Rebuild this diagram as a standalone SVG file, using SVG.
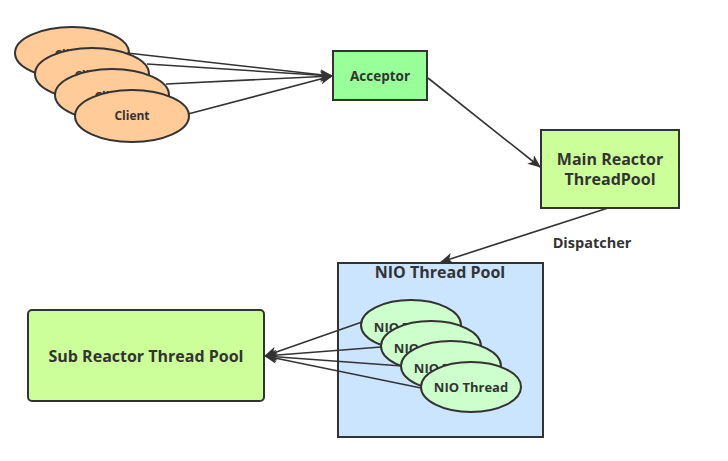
<svg xmlns="http://www.w3.org/2000/svg" width="728" height="461" viewBox="0 0 728 461">
<style>
text{font-family:"Open Sans","Noto Sans","Liberation Sans",sans-serif;font-weight:bold;fill:#333;text-anchor:middle}
.ln{stroke:#333;stroke-width:1.6;fill:none}
.cl{fill:#FFCC99;stroke:#333;stroke-width:2}
.nio{fill:#CCFFCC;stroke:#333;stroke-width:2}
.box{stroke:#333;stroke-width:2}
</style>
<defs>
<marker id="ah" viewBox="0 0 13 11" refX="12" refY="5.5" markerWidth="13" markerHeight="11" markerUnits="userSpaceOnUse" orient="auto">
<path d="M0,0 L13,5.5 L0,11 L3.5,5.5 z" fill="#333"/>
</marker>
</defs>
<rect width="728" height="461" fill="#fff"/>
<g id="nio-pool">
<rect x="338" y="263" width="205" height="174" fill="#CCE5FF" class="box"/>
<text x="440" y="278" font-size="16">NIO Thread Pool</text>
</g>
<g id="clients">
<g id="client1"><ellipse cx="72" cy="53" rx="57" ry="26" class="cl"/><text x="72" y="59" font-size="12">Client</text></g>
<g id="client2"><ellipse cx="92" cy="74" rx="57" ry="26" class="cl"/><text x="92" y="80" font-size="12">Client</text></g>
<g id="client3"><ellipse cx="112" cy="95" rx="57" ry="26" class="cl"/><text x="112" y="101" font-size="12">Client</text></g>
<g id="client4"><ellipse cx="132" cy="116" rx="57" ry="26" class="cl"/><text x="132" y="120" font-size="12">Client</text></g>
</g>
<g id="acceptor">
<rect x="333" y="51" width="94" height="49" fill="#99FF99" class="box"/>
<text x="380" y="81" font-size="13.5">Acceptor</text>
</g>
<g id="main-reactor">
<rect x="541" y="130" width="138" height="78" fill="#CCFF99" class="box"/>
<text x="610" y="165" font-size="16">Main Reactor</text>
<text x="610" y="185" font-size="16">ThreadPool</text>
</g>
<g id="sub-reactor">
<rect x="28" y="310" width="236" height="91" rx="4" fill="#CCFF99" class="box"/>
<text x="146" y="362" font-size="16">Sub Reactor Thread Pool</text>
</g>
<g id="nio-threads">
<g id="nio1"><ellipse cx="411" cy="325" rx="50" ry="25" class="nio"/><text x="411" y="332" font-size="13">NIO Thread</text></g>
<g id="nio2"><ellipse cx="431" cy="346" rx="50" ry="25" class="nio"/><text x="431" y="353" font-size="13">NIO Thread</text></g>
<g id="nio3"><ellipse cx="451" cy="366" rx="50" ry="25" class="nio"/><text x="451" y="373" font-size="13">NIO Thread</text></g>
<g id="nio4"><ellipse cx="471" cy="387" rx="50" ry="25" class="nio"/><text x="471" y="392" font-size="13">NIO Thread</text></g>
</g>
<g id="connectors">
<line x1="127" y1="53" x2="332" y2="76" class="ln" marker-end="url(#ah)"/>
<line x1="147" y1="64" x2="332" y2="76" class="ln" marker-end="url(#ah)"/>
<line x1="166" y1="84" x2="332" y2="76" class="ln" marker-end="url(#ah)"/>
<line x1="188" y1="114" x2="332" y2="76" class="ln" marker-end="url(#ah)"/>
<line x1="428" y1="78" x2="540" y2="167" class="ln" marker-end="url(#ah)"/>
<line x1="608" y1="208" x2="441" y2="262" class="ln" marker-end="url(#ah)"/>
<line x1="362" y1="322" x2="265" y2="356" class="ln" marker-end="url(#ah)"/>
<line x1="381" y1="347" x2="265" y2="356" class="ln" marker-end="url(#ah)"/>
<line x1="402" y1="366" x2="265" y2="356" class="ln" marker-end="url(#ah)"/>
<line x1="421" y1="388" x2="265" y2="356" class="ln" marker-end="url(#ah)"/>
<text x="592" y="248" font-size="14.5">Dispatcher</text>
</g>
</svg>
